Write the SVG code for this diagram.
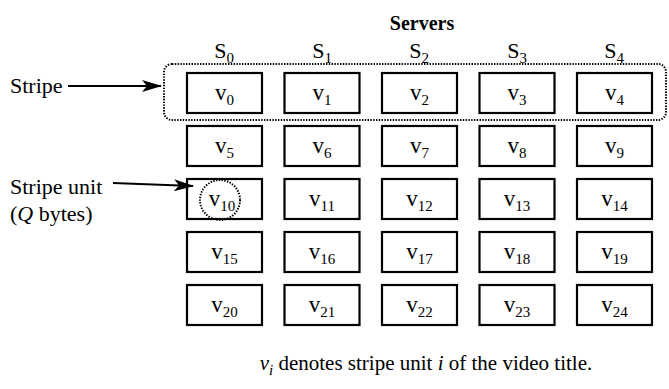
<svg xmlns="http://www.w3.org/2000/svg" width="669" height="389" viewBox="0 0 669 389">
  <style>
    text { font-family: "Liberation Serif", "Times New Roman", serif; fill: #000; }
    .lbl { font-size: 22px; }
    .cap { font-size: 21px; text-anchor: middle; }
    .srv { font-size: 22px; text-anchor: middle; }
    .hdr { font-size: 20px; font-weight: bold; text-anchor: middle; }
    .unit { font-size: 23px; text-anchor: middle; }
    .sub { font-size: 15px; }
    .box { fill: #fff; stroke: #000; stroke-width: 2.2; }
    .dot { fill: none; stroke: #000; stroke-width: 2; stroke-dasharray: 1.4 1.4; }
    .arrow { stroke: #000; stroke-width: 2; fill: none; marker-end: url(#head); }
  </style>
  <defs>
    <marker id="head" viewBox="0 0 20 12" refX="19" refY="6" markerWidth="20" markerHeight="12" markerUnits="userSpaceOnUse" orient="auto">
      <path d="M0,0 L20,6 L0,12 L5,6 Z" fill="#000"/>
    </marker>
  </defs>
  <rect width="669" height="389" fill="#fff"/>

  <!-- column headers -->
  <g id="headers">
    <text class="hdr" x="422" y="30">Servers</text>
    <text class="srv" x="224" y="58">S<tspan class="sub" dy="5">0</tspan></text>
    <text class="srv" x="322" y="58">S<tspan class="sub" dy="5">1</tspan></text>
    <text class="srv" x="419" y="58">S<tspan class="sub" dy="5">2</tspan></text>
    <text class="srv" x="517" y="58">S<tspan class="sub" dy="5">3</tspan></text>
    <text class="srv" x="614" y="58">S<tspan class="sub" dy="5">4</tspan></text>
  </g>

  <!-- stripe outline around the first row -->
  <g id="stripe">
    <rect class="dot" x="164" y="64" width="502" height="56" rx="8"/>
  </g>

  <!-- stripe units v0..v24, five servers by five rows -->
  <g id="v0"><rect class="box" x="187" y="73" width="75" height="40"/><text class="unit" x="224.5" y="100">v<tspan class="sub" dy="5">0</tspan></text></g>
  <g id="v1"><rect class="box" x="284.5" y="73" width="75" height="40"/><text class="unit" x="322" y="100">v<tspan class="sub" dy="5">1</tspan></text></g>
  <g id="v2"><rect class="box" x="382" y="73" width="75" height="40"/><text class="unit" x="419.5" y="100">v<tspan class="sub" dy="5">2</tspan></text></g>
  <g id="v3"><rect class="box" x="479.5" y="73" width="75" height="40"/><text class="unit" x="517" y="100">v<tspan class="sub" dy="5">3</tspan></text></g>
  <g id="v4"><rect class="box" x="577" y="73" width="75" height="40"/><text class="unit" x="614.5" y="100">v<tspan class="sub" dy="5">4</tspan></text></g>

  <g id="v5"><rect class="box" x="187" y="126" width="75" height="40"/><text class="unit" x="224.5" y="153">v<tspan class="sub" dy="5">5</tspan></text></g>
  <g id="v6"><rect class="box" x="284.5" y="126" width="75" height="40"/><text class="unit" x="322" y="153">v<tspan class="sub" dy="5">6</tspan></text></g>
  <g id="v7"><rect class="box" x="382" y="126" width="75" height="40"/><text class="unit" x="419.5" y="153">v<tspan class="sub" dy="5">7</tspan></text></g>
  <g id="v8"><rect class="box" x="479.5" y="126" width="75" height="40"/><text class="unit" x="517" y="153">v<tspan class="sub" dy="5">8</tspan></text></g>
  <g id="v9"><rect class="box" x="577" y="126" width="75" height="40"/><text class="unit" x="614.5" y="153">v<tspan class="sub" dy="5">9</tspan></text></g>

  <g id="v10"><rect class="box" x="187" y="179" width="75" height="40"/><text class="unit" x="222" y="206">v<tspan class="sub" dy="5">10</tspan></text></g>
  <g id="v11"><rect class="box" x="284.5" y="179" width="75" height="40"/><text class="unit" x="322" y="206">v<tspan class="sub" dy="5">11</tspan></text></g>
  <g id="v12"><rect class="box" x="382" y="179" width="75" height="40"/><text class="unit" x="419.5" y="206">v<tspan class="sub" dy="5">12</tspan></text></g>
  <g id="v13"><rect class="box" x="479.5" y="179" width="75" height="40"/><text class="unit" x="517" y="206">v<tspan class="sub" dy="5">13</tspan></text></g>
  <g id="v14"><rect class="box" x="577" y="179" width="75" height="40"/><text class="unit" x="614.5" y="206">v<tspan class="sub" dy="5">14</tspan></text></g>

  <g id="v15"><rect class="box" x="187" y="232" width="75" height="40"/><text class="unit" x="224.5" y="259">v<tspan class="sub" dy="5">15</tspan></text></g>
  <g id="v16"><rect class="box" x="284.5" y="232" width="75" height="40"/><text class="unit" x="322" y="259">v<tspan class="sub" dy="5">16</tspan></text></g>
  <g id="v17"><rect class="box" x="382" y="232" width="75" height="40"/><text class="unit" x="419.5" y="259">v<tspan class="sub" dy="5">17</tspan></text></g>
  <g id="v18"><rect class="box" x="479.5" y="232" width="75" height="40"/><text class="unit" x="517" y="259">v<tspan class="sub" dy="5">18</tspan></text></g>
  <g id="v19"><rect class="box" x="577" y="232" width="75" height="40"/><text class="unit" x="614.5" y="259">v<tspan class="sub" dy="5">19</tspan></text></g>

  <g id="v20"><rect class="box" x="187" y="285" width="75" height="40"/><text class="unit" x="224.5" y="312">v<tspan class="sub" dy="5">20</tspan></text></g>
  <g id="v21"><rect class="box" x="284.5" y="285" width="75" height="40"/><text class="unit" x="322" y="312">v<tspan class="sub" dy="5">21</tspan></text></g>
  <g id="v22"><rect class="box" x="382" y="285" width="75" height="40"/><text class="unit" x="419.5" y="312">v<tspan class="sub" dy="5">22</tspan></text></g>
  <g id="v23"><rect class="box" x="479.5" y="285" width="75" height="40"/><text class="unit" x="517" y="312">v<tspan class="sub" dy="5">23</tspan></text></g>
  <g id="v24"><rect class="box" x="577" y="285" width="75" height="40"/><text class="unit" x="614.5" y="312">v<tspan class="sub" dy="5">24</tspan></text></g>

  <!-- dotted ring marking a single stripe unit -->
  <g id="unit-ring">
    <circle class="dot" cx="220" cy="200" r="20"/>
  </g>

  <!-- side labels -->
  <g id="label-stripe">
    <text class="lbl" x="10" y="93">Stripe</text>
  </g>
  <g id="label-unit">
    <text class="lbl" x="10" y="194">Stripe unit</text>
    <text class="lbl" x="10" y="221">(<tspan font-style="italic">Q</tspan> bytes)</text>
  </g>

  <!-- pointer arrows -->
  <g id="connectors">
    <line class="arrow" x1="68" y1="86" x2="161" y2="86"/>
    <line class="arrow" x1="113" y1="183" x2="193" y2="186"/>
  </g>

  <!-- legend -->
  <g id="caption">
    <text class="cap" x="426" y="370"><tspan font-style="italic">v</tspan><tspan class="sub" font-style="italic" dy="5">i</tspan><tspan dy="-5"> denotes stripe unit </tspan><tspan font-style="italic">i</tspan> of the video title.</text>
  </g>
</svg>
